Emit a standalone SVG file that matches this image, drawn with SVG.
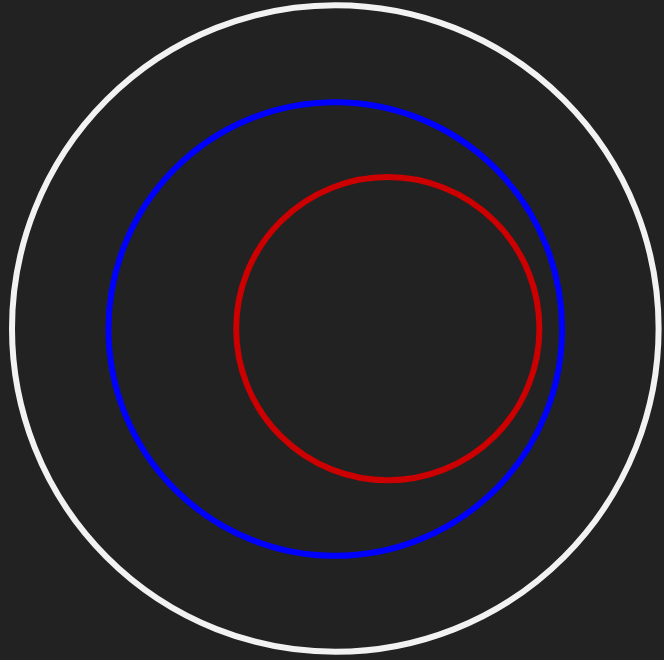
<svg xmlns="http://www.w3.org/2000/svg" width="664" height="660" viewBox="0 0 664 660">
<style>
circle{fill:none;stroke-width:6}
</style>
<rect width="664" height="660" fill="#222222"/>
<g id="outer"><circle cx="335.3" cy="328.5" r="323.3" stroke="#f2f2f2"/></g>
<g id="middle"><circle cx="335.3" cy="329" r="226.8" stroke="#0000ff"/></g>
<g id="inner"><circle cx="387.8" cy="328.7" r="151.6" stroke="#cc0000"/></g>
<g id="connectors"></g>
</svg>
